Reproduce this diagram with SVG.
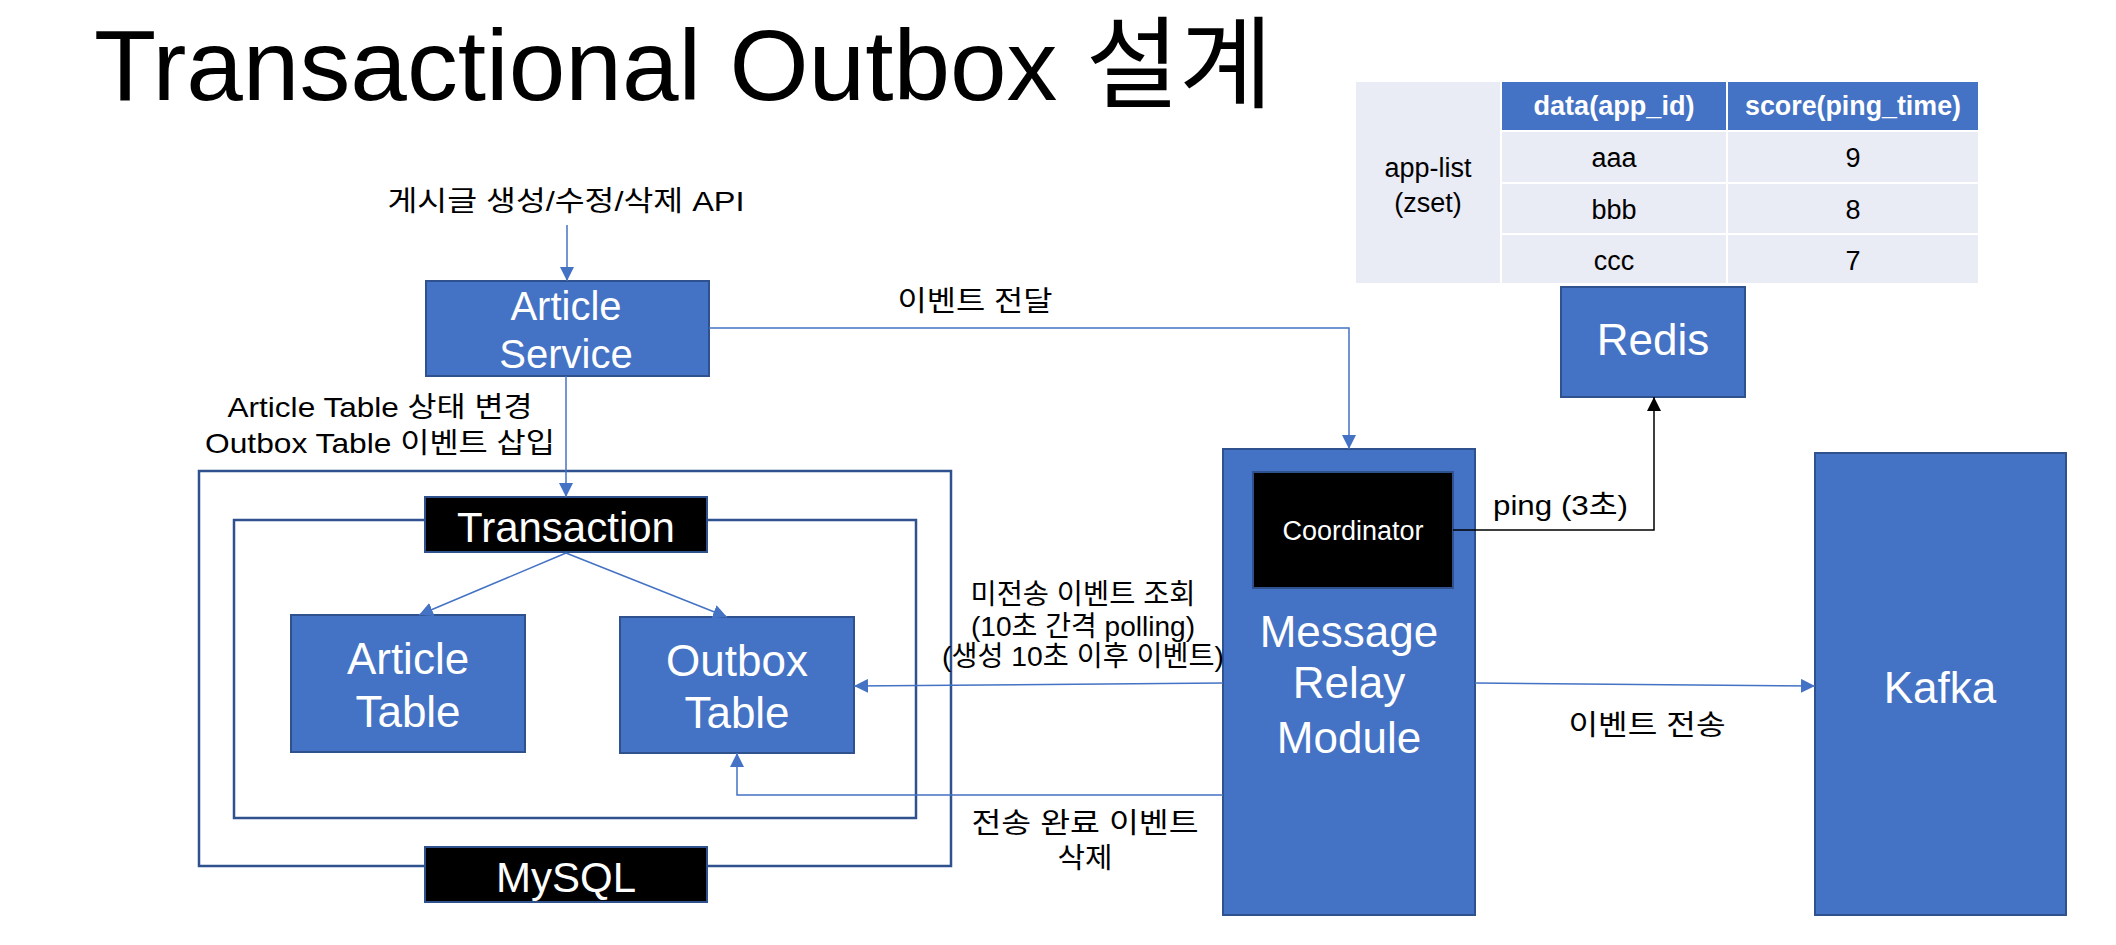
<svg xmlns="http://www.w3.org/2000/svg" width="2116" height="945" viewBox="0 0 2116 945">
<style>
text{font-family:"Liberation Sans","Noto Sans CJK KR",sans-serif;}
.box{fill:#4472C4;stroke:#2F528F;stroke-width:2;}
.dark{fill:#000;stroke:#2F528F;stroke-width:2;}
.frame{fill:none;stroke:#2F528F;stroke-width:2.5;}
.wt{fill:#fff;text-anchor:middle;}
.bk{fill:#000;text-anchor:middle;}
.lbl{fill:#000;font-size:28px;}
.conn{fill:none;stroke:#4472C4;stroke-width:1.5;}
.ping{fill:none;stroke:#000;stroke-width:1.5;}
.cell{fill:#E9EBF5;}
.head{fill:#4472C4;}
</style>
<defs>
<marker id="ab" markerUnits="userSpaceOnUse" markerWidth="14" markerHeight="14" refX="14" refY="7" orient="auto"><path d="M0,0 L14,7 L0,14 z" fill="#4472C4"/></marker>
<marker id="ak" markerUnits="userSpaceOnUse" markerWidth="14" markerHeight="14" refX="14" refY="7" orient="auto"><path d="M0,0 L14,7 L0,14 z" fill="#000"/></marker>
</defs>
<rect width="2116" height="945" fill="#fff"/>
<text x="94" y="100" font-size="100" textLength="1179" lengthAdjust="spacingAndGlyphs" fill="#000">Transactional Outbox 설계</text>

<g id="mysql">
<rect class="frame" x="199" y="471" width="752" height="395"/>
<rect class="dark" x="425" y="847" width="282" height="55"/>
<text class="wt" x="566" y="892" font-size="42">MySQL</text>
</g>
<g id="transaction">
<rect class="frame" x="234" y="520" width="682" height="298"/>
<rect class="dark" x="425" y="497" width="282" height="55"/>
<text class="wt" x="566" y="542" font-size="42">Transaction</text>
</g>
<g id="article-service">
<rect class="box" x="426" y="281" width="283" height="95"/>
<text class="wt" x="566" y="320" font-size="40">Article</text>
<text class="wt" x="566" y="368" font-size="40">Service</text>
</g>
<g id="article-table">
<rect class="box" x="291" y="615" width="234" height="137"/>
<text class="wt" x="408" y="674" font-size="44">Article</text>
<text class="wt" x="408" y="727" font-size="44">Table</text>
</g>
<g id="outbox-table">
<rect class="box" x="620" y="617" width="234" height="136"/>
<text class="wt" x="737" y="676" font-size="44">Outbox</text>
<text class="wt" x="737" y="728" font-size="44">Table</text>
</g>
<g id="message-relay">
<rect class="box" x="1223" y="449" width="252" height="466"/>
<text class="wt" x="1349" y="647" font-size="44">Message</text>
<text class="wt" x="1349" y="698" font-size="44">Relay</text>
<text class="wt" x="1349" y="753" font-size="44">Module</text>
</g>
<g id="coordinator">
<rect class="dark" x="1253" y="472" width="200" height="116"/>
<text class="wt" x="1353" y="540" font-size="27">Coordinator</text>
</g>
<g id="kafka">
<rect class="box" x="1815" y="453" width="251" height="462"/>
<text class="wt" x="1940" y="703" font-size="44">Kafka</text>
</g>
<g id="redis">
<rect class="box" x="1561" y="287" width="184" height="110"/>
<text class="wt" x="1653" y="355" font-size="44">Redis</text>
</g>
<g id="redis-table">
<rect class="cell" x="1356" y="82" width="144" height="201"/>
<rect class="head" x="1502" y="82" width="224" height="48"/>
<rect class="head" x="1728" y="82" width="250" height="48"/>
<rect class="cell" x="1502" y="132" width="224" height="50"/>
<rect class="cell" x="1728" y="132" width="250" height="50"/>
<rect class="cell" x="1502" y="184" width="224" height="49"/>
<rect class="cell" x="1728" y="184" width="250" height="49"/>
<rect class="cell" x="1502" y="235" width="224" height="48"/>
<rect class="cell" x="1728" y="235" width="250" height="48"/>
<text class="wt" x="1614" y="115" font-size="27" font-weight="bold" textLength="161" lengthAdjust="spacingAndGlyphs">data(app_id)</text>
<text class="wt" x="1853" y="115" font-size="27" font-weight="bold" textLength="216" lengthAdjust="spacingAndGlyphs">score(ping_time)</text>
<text class="bk" x="1428" y="177" font-size="27">app-list</text>
<text class="bk" x="1428" y="212" font-size="27">(zset)</text>
<text class="bk" x="1614" y="167" font-size="27">aaa</text>
<text class="bk" x="1853" y="167" font-size="27">9</text>
<text class="bk" x="1614" y="219" font-size="27">bbb</text>
<text class="bk" x="1853" y="219" font-size="27">8</text>
<text class="bk" x="1614" y="270" font-size="27">ccc</text>
<text class="bk" x="1853" y="270" font-size="27">7</text>
</g>

<g id="connectors">
<line class="conn" x1="567" y1="225" x2="567" y2="281" marker-end="url(#ab)"/>
<line class="conn" x1="566" y1="376" x2="566" y2="497" marker-end="url(#ab)"/>
<polyline class="conn" points="709,328 1349,328 1349,449" marker-end="url(#ab)"/>
<line class="conn" x1="566" y1="553" x2="419" y2="615" marker-end="url(#ab)"/>
<line class="conn" x1="566" y1="553" x2="727" y2="617" marker-end="url(#ab)"/>
<line class="conn" x1="1223" y1="683" x2="854" y2="686" marker-end="url(#ab)"/>
<polyline class="conn" points="1223,795 737,795 737,753" marker-end="url(#ab)"/>
<line class="conn" x1="1475" y1="683" x2="1815" y2="686" marker-end="url(#ab)"/>
<polyline class="ping" points="1453,530 1654,530 1654,397" marker-end="url(#ak)"/>
</g>

<g id="labels">
<text class="lbl" x="566" y="211" text-anchor="middle" textLength="357" lengthAdjust="spacingAndGlyphs">게시글 생성/수정/삭제 API</text>
<text class="lbl" x="380" y="417" text-anchor="middle" textLength="305" lengthAdjust="spacingAndGlyphs">Article Table 상태 변경</text>
<text class="lbl" x="380" y="453" text-anchor="middle" textLength="350" lengthAdjust="spacingAndGlyphs">Outbox Table 이벤트 삽입</text>
<text class="lbl" x="975" y="311" text-anchor="middle" textLength="155" lengthAdjust="spacingAndGlyphs">이벤트 전달</text>
<text class="lbl" x="1083" y="604" text-anchor="middle" textLength="225" lengthAdjust="spacingAndGlyphs">미전송 이벤트 조회</text>
<text class="lbl" x="1083" y="636" text-anchor="middle" textLength="224" lengthAdjust="spacingAndGlyphs">(10초 간격 polling)</text>
<text class="lbl" x="1083" y="666" text-anchor="middle" textLength="282" lengthAdjust="spacingAndGlyphs">(생성 10초 이후 이벤트)</text>
<text class="lbl" x="1085" y="833" text-anchor="middle" textLength="227" lengthAdjust="spacingAndGlyphs">전송 완료 이벤트</text>
<text class="lbl" x="1085" y="868" text-anchor="middle" textLength="55" lengthAdjust="spacingAndGlyphs">삭제</text>
<text class="lbl" x="1493" y="515" textLength="135" lengthAdjust="spacingAndGlyphs">ping (3초)</text>
<text class="lbl" x="1647" y="735" text-anchor="middle" textLength="157" lengthAdjust="spacingAndGlyphs">이벤트 전송</text>
</g>
</svg>
